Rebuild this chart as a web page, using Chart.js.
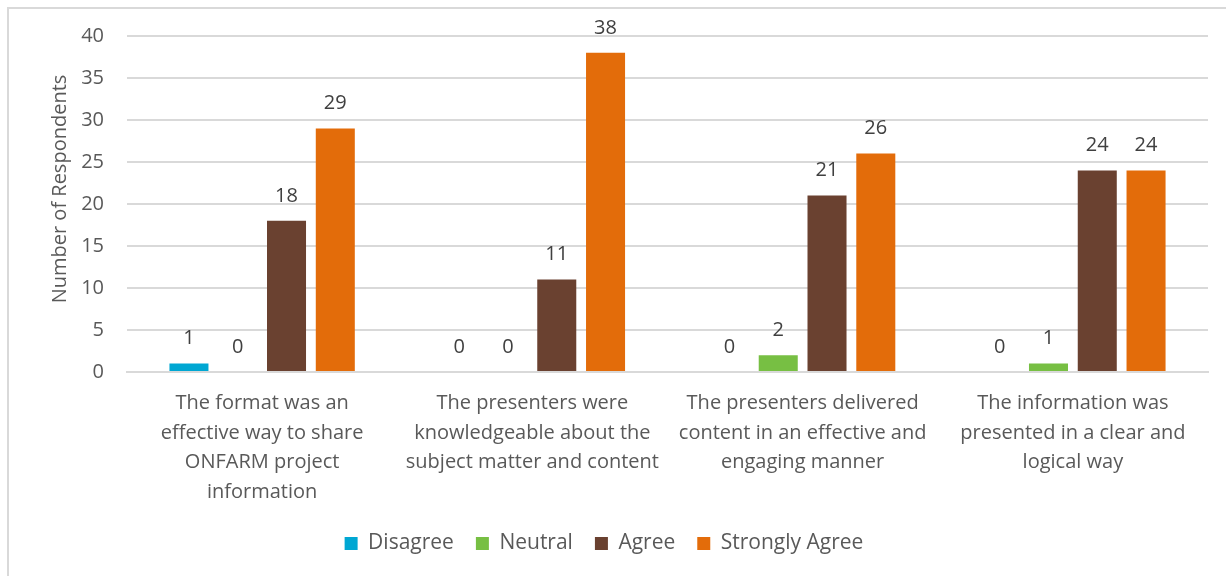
<!DOCTYPE html>
<html>
<head>
<meta charset="utf-8">
<script src="https://cdn.jsdelivr.net/npm/chart.js@4"></script>
<style>
  html, body { margin: 0; padding: 0; background: #fff; overflow: hidden; }
  #frame { position: absolute; left: 7px; top: 7px; width: 1300px; height: 700px;
           border-left: 2px solid #d9d9d9; border-top: 2px solid #d9d9d9; }
  #wrap { position: absolute; left: 0; top: 0; width: 1226px; height: 576px; }
</style>
</head>
<body>
<div id="frame"></div>
<div id="wrap"><canvas id="surveyChart" width="1226" height="576"></canvas></div>
<script>
const categories = [
    ['The format was an', 'effective way to share', 'ONFARM project', 'information'],
    ['The presenters were', 'knowledgeable about the', 'subject matter and content'],
    ['The presenters delivered', 'content in an effective and', 'engaging manner'],
    ['The information was', 'presented in a clear and', 'logical way']
];
const disagree = [1, 0, 0, 0];
const neutral = [0, 0, 2, 1];
const agree = [18, 11, 21, 24];
const stronglyAgree = [29, 38, 26, 24];

const FONT = '"Open Sans", "DejaVu Sans", sans-serif';
const PLOT_BOTTOM = 372;
const PAD_BOTTOM = 12;

// draws the value above each bar, zeros included (like Excel data labels)
const valueLabels = {
    id: 'valueLabels',
    afterDatasetsDraw(chart) {
        const ctx = chart.ctx;
        ctx.save();
        ctx.font = '20px ' + FONT;
        ctx.fillStyle = '#404040';
        ctx.textAlign = 'center';
        ctx.textBaseline = 'middle';
        chart.data.datasets.forEach((ds, i) => {
            chart.getDatasetMeta(i).data.forEach((bar, j) => {
                ctx.fillText(ds.data[j], bar.x, bar.y - 25);
            });
        });
        ctx.restore();
    }
};

// y axis title, placed where Excel puts it (a bit above the plot's middle)
const yTitle = {
    id: 'yTitle',
    afterDraw(chart) {
        const ctx = chart.ctx;
        ctx.save();
        ctx.translate(60, 189);
        ctx.rotate(-Math.PI / 2);
        ctx.font = '20px ' + FONT;
        ctx.fillStyle = '#595959';
        ctx.textAlign = 'center';
        ctx.textBaseline = 'middle';
        ctx.fillText('Number of Respondents', 0, 0);
        ctx.restore();
    }
};

new Chart(document.getElementById('surveyChart').getContext('2d'), {
    type: 'bar',
    data: {
        labels: categories,
        datasets: [
            { label: 'Disagree', data: disagree, backgroundColor: '#00a7d3' },
            { label: 'Neutral', data: neutral, backgroundColor: '#77bf43' },
            { label: 'Agree', data: agree, backgroundColor: '#6a4130' },
            { label: 'Strongly Agree', data: stronglyAgree, backgroundColor: '#e36c0a' }
        ]
    },
    options: {
        responsive: false,
        animation: false,
        devicePixelRatio: 1,
        layout: { padding: { top: 36, right: 18, bottom: PAD_BOTTOM, left: 0 } },
        datasets: { bar: { barPercentage: 0.8, categoryPercentage: 0.722 } },
        plugins: {
            tooltip: { enabled: false },
            legend: {
                position: 'bottom',
                labels: {
                    font: { family: FONT, size: 21 },
                    color: '#595959',
                    boxWidth: 13,
                    boxHeight: 13,
                    padding: 22
                }
            }
        },
        scales: {
            x: {
                grid: { display: false, drawTicks: false },
                border: { color: '#d9d9d9', width: 2 },
                ticks: {
                    font: { family: FONT, size: 20, lineHeight: 1.47 },
                    color: '#595959',
                    padding: 17,
                    maxRotation: 0,
                    autoSkip: false
                },
                afterFit(scale) {
                    const ch = scale.chart;
                    scale.height = ch.height - PAD_BOTTOM - ch.legend.height - PLOT_BOTTOM;
                }
            },
            y: {
                min: 0,
                max: 40,
                ticks: {
                    stepSize: 5,
                    font: { family: FONT, size: 20 },
                    color: '#595959',
                    padding: 23
                },
                grid: { color: '#d9d9d9', lineWidth: 2, drawTicks: false },
                border: { display: false },
                afterFit(scale) { scale.width = 127; }
            }
        }
    },
    plugins: [valueLabels, yTitle]
});
</script>
</body>
</html>
